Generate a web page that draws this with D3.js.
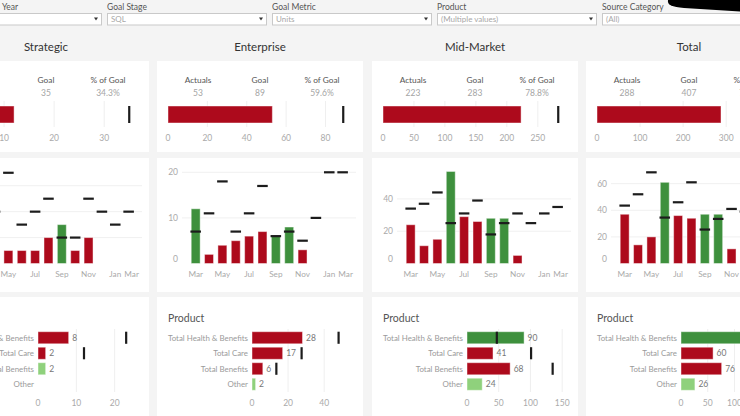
<!DOCTYPE html>
<html><head><meta charset="utf-8">
<script src="https://cdn.jsdelivr.net/npm/d3@7"></script>
<style>
html,body{margin:0;padding:0;background:#f4f4f4;overflow:hidden}
svg{display:block;font-family:Lato, "Open Sans", sans-serif}
</style></head><body>
<svg id="c" width="740" height="416"></svg>
<script>
// ---------- data ----------
const filterLabels = ["Year", "Goal Stage", "Goal Metric", "Product", "Source Category"];
const filterValues = ["", "SQL", "Units", "(Multiple values)", "(All)"];

const segments = ["Strategic", "Enterprise", "Mid-Market", "Total"];
const actualTotals = [12, 53, 223, 288];
const goalTotals = [35, 89, 283, 407];
const pctOfGoal = ["34.3%", "59.6%", "78.8%", "70.8%"];
const topTicks = [[0,10,20,30],[0,20,40,60,80],[0,50,100,150,200,250],[0,100,200,300,400]];

const months = ["Mar","Apr","May","Jun","Jul","Aug","Sep","Oct","Nov","Dec","Jan","Mar2"];
const monthLabels = {"Mar":"Mar","May":"May","Jul":"Jul","Sep":"Sep","Nov":"Nov","Jan":"Jan","Mar2":"Mar"};
const strategicActual  = [1,0,1,1,1,2,3,1,2,null,null,null];
const strategicGoal    = [2.5,4,7,3,4,5,2,2,5,4,3,4];
const enterpriseActual = [12,2,4,5,6,7,6,8,3,null,null,null];
const enterpriseGoal   = [7,11,18,7,11,17,6,7,5,10,20,20];
const midMarketActual  = [24,11,15,57,29,26,28,28,5,null,null,null];
const midMarketGoal    = [34,37,44,25,31,39,18,25,31,25,31,35];
const totalActual      = [37,14,20,61,36,34,37,37,11,null,null,null];
const totalGoal        = [43.5,52,68.5,34.5,46,61,25.5,33.5,41,39,54,59];
const monthlyActual = [strategicActual, enterpriseActual, midMarketActual, totalActual];
const monthlyGoal = [strategicGoal, enterpriseGoal, midMarketGoal, totalGoal];
const midMax = [7.6, 21.6, 61, 74];
const midTicks = [[0,2,4,6],[0,10,20],[0,20,40],[0,20,40,60]];

const products = ["Total Health & Benefits","Total Care","Total Benefits","Other"];
const productActual = [[8,2,2,0],[28,17,6,2],[90,41,68,24],[126,60,76,26]];
const productGoal   = [[23,12,0,0],[48,27.5,13.5,0],[47,101,135,0],[118,140.5,148.5,0]];
const bottomMax = [24, 51, 145, 172];
const bottomTicks = [[0,10,20],[0,20,40],[0,50,100,150],[0,50,100,150]];

// ---------- style ----------
const RED = "#ad0a1c", GREEN = "#3e903d", LIGHT = "#8fd17c", MARK = "#1c1c1c";
const cardX = [-57, 157, 372, 586], cardW = 206;

const svg = d3.select("#c");

// filters
const fx = i => -58 + i * 165;
filterLabels.forEach((lab, i) => {
  const x = fx(i);
  svg.append("text").attr("x", i === 0 ? 2 : x).attr("y", 10).attr("font-size", 8.5)
     .attr("fill", "#555").text(lab);
  svg.append("rect").attr("x", x + 0.5).attr("y", 13.5).attr("width", 159).attr("height", 11.5)
     .attr("fill", "#fff").attr("stroke", "#c9c9c9");
  svg.append("text").attr("x", x + 4).attr("y", 22.3).attr("font-size", 8)
     .attr("fill", "#a8a8a8").text(filterValues[i]);
  svg.append("path").attr("d", `M${x+152},17.5 l4,0 l-2,3 z`).attr("fill", "#333");
});
// redaction blob top-right
svg.append("path").attr("d", "M668,0 C667,5 672,7 684,8 L740,11.5 L740,0 Z").attr("fill", "#000");

segments.forEach((seg, i) => {
  const L = cardX[i];
  // titles
  svg.append("text").attr("x", L + 103).attr("y", 51).attr("text-anchor", "middle")
     .attr("font-size", 11.5).attr("fill", "#333").text(seg);

  // cards
  [[61, 91], [158, 134], [297, 130]].forEach(([y, h]) =>
    svg.append("rect").attr("x", L).attr("y", y).attr("width", cardW).attr("height", h).attr("fill", "#fff"));

  // ---- top bullet ----
  const gT = svg.append("g");
  const heads = ["Actuals", "Goal", "% of Goal"];
  const vals = [actualTotals[i], goalTotals[i], pctOfGoal[i]];
  heads.forEach((h, k) => {
    gT.append("text").attr("x", L + 41 + 62 * k).attr("y", 82.5).attr("text-anchor", "middle")
      .attr("font-size", 8.3).attr("fill", "#555").text(h);
    gT.append("text").attr("x", L + 41 + 62 * k).attr("y", 95.5).attr("text-anchor", "middle")
      .attr("font-size", 8.5).attr("fill", "#a5a5a5").text(vals[k]);
  });
  const xT = d3.scaleLinear().domain([0, goalTotals[i] * 1.05]).range([L + 11, L + 195]);
  topTicks[i].forEach(t => {
    if (t > 0) gT.append("line").attr("x1", xT(t)).attr("x2", xT(t)).attr("y1", 101).attr("y2", 127)
      .attr("stroke", "#efefef");
    gT.append("text").attr("x", xT(t)).attr("y", 140.5).attr("text-anchor", "middle")
      .attr("font-size", 8.5).attr("fill", "#aaa").text(t);
  });
  gT.append("rect").attr("x", xT(0)).attr("y", 106).attr("width", xT(actualTotals[i]) - xT(0)).attr("height", 17)
    .attr("fill", actualTotals[i] >= goalTotals[i] ? GREEN : RED).attr("stroke", "rgba(255,255,255,0.45)");
  gT.append("rect").attr("x", xT(goalTotals[i]) - 1.1).attr("y", 106).attr("width", 2.2).attr("height", 17)
    .attr("fill", MARK);

  // ---- middle monthly ----
  const gM = svg.append("g");
  const xM = d3.scaleBand().domain(months).range([L + 32, L + 192.3]).paddingInner(0.33).paddingOuter(0.165);
  const yM = d3.scaleLinear().domain([0, midMax[i]]).range([263.5, 165]);
  midTicks[i].forEach(t => {
    if (t > 0) gM.append("line").attr("x1", L + 25).attr("x2", L + 199).attr("y1", yM(t)).attr("y2", yM(t))
      .attr("stroke", "#f0f0f0");
    gM.append("text").attr("x", L + 21).attr("y", yM(t) + (t === 0 ? -4 : 0)).attr("dy", "0.35em")
      .attr("text-anchor", "end").attr("font-size", 8.5).attr("fill", "#aaa").text(t);
  });
  months.forEach((m, k) => {
    const a = monthlyActual[i][k], gl = monthlyGoal[i][k];
    if (a != null && a > 0) gM.append("rect").attr("x", xM(m)).attr("y", yM(a)).attr("width", xM.bandwidth())
      .attr("height", yM(0) - yM(a)).attr("fill", a >= gl ? GREEN : RED).attr("stroke", "rgba(255,255,255,0.45)");
  });
  months.forEach((m, k) => {
    const gl = monthlyGoal[i][k];
    gM.append("rect").attr("x", xM(m) - 0.8).attr("y", yM(gl) - 1.1).attr("width", xM.bandwidth() + 1.6)
      .attr("height", 2.2).attr("fill", MARK);
    if (monthLabels[m]) gM.append("text").attr("x", xM(m) + xM.bandwidth() / 2 + (m === "Mar2" ? 3 : 0))
      .attr("y", 277).attr("text-anchor", "middle").attr("font-size", 8.2).attr("fill", "#aaa").text(monthLabels[m]);
  });

  // ---- bottom product ----
  const gB = svg.append("g");
  gB.append("text").attr("x", L + 11).attr("y", 322).attr("font-size", 10.5).attr("fill", "#555").text("Product");
  const yB = d3.scaleBand().domain(products).range([330, 392]).paddingInner(0.22).paddingOuter(0.11);
  const xB = d3.scaleLinear().domain([0, bottomMax[i]]).range([L + 95, L + 187]);
  bottomTicks[i].forEach(t => {
    if (t > 0) gB.append("line").attr("x1", xB(t)).attr("x2", xB(t)).attr("y1", 329).attr("y2", 392)
      .attr("stroke", "#efefef");
    gB.append("text").attr("x", xB(t)).attr("y", 405.5).attr("text-anchor", "middle")
      .attr("font-size", 8.5).attr("fill", "#aaa").text(t);
  });
  products.forEach((p, k) => {
    const a = productActual[i][k], gl = productGoal[i][k];
    const cy = yB(p) + yB.bandwidth() / 2;
    gB.append("text").attr("x", L + 91).attr("y", cy).attr("dy", "0.35em").attr("text-anchor", "end")
      .attr("font-size", 7.9).attr("fill", "#9a9a9a").text(p);
    if (a > 0) {
      gB.append("rect").attr("x", xB(0)).attr("y", yB(p)).attr("width", xB(a) - xB(0)).attr("height", yB.bandwidth())
        .attr("fill", gl === 0 ? LIGHT : (a >= gl ? GREEN : RED)).attr("stroke", "rgba(255,255,255,0.45)");
      gB.append("text").attr("x", xB(a) + 3.5).attr("y", cy).attr("dy", "0.35em")
        .attr("font-size", 8.5).attr("fill", "#777").text(a);
    }
    if (gl > 0) gB.append("rect").attr("x", xB(gl) - 1.1).attr("y", yB(p)).attr("width", 2.2)
      .attr("height", yB.bandwidth()).attr("fill", MARK);
  });
});
</script>
</body></html>
